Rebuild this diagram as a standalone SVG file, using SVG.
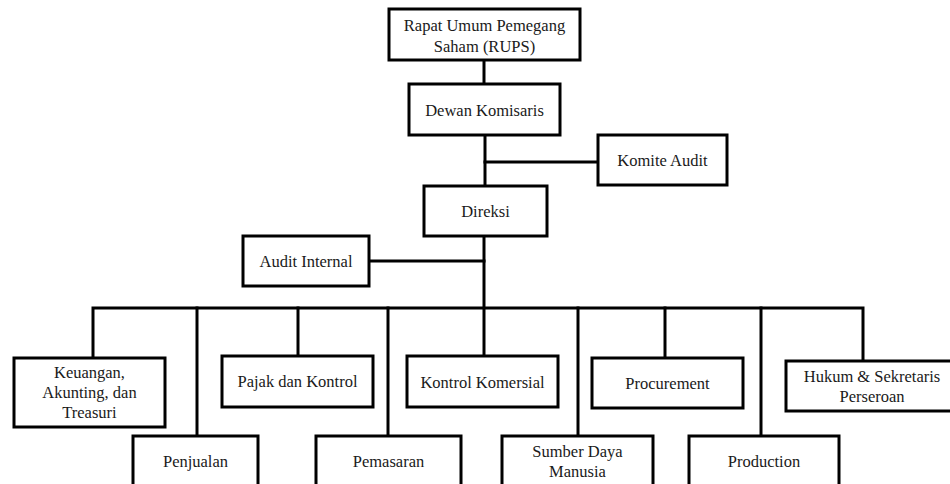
<svg xmlns="http://www.w3.org/2000/svg" width="950" height="484" viewBox="0 0 950 484">
  <style>
    .box { fill: #ffffff; stroke: #000000; stroke-width: 3; }
    .link { fill: none; stroke: #000000; stroke-width: 3; stroke-linecap: square; }
    text { font-family: "Liberation Serif", "Times New Roman", serif; font-size: 16.5px; fill: #1a1a1a; text-anchor: middle; }
  </style>
  <rect width="950" height="484" fill="#ffffff"/>

  <!-- connectors -->
  <g id="connectors">
    <line class="link" x1="484" y1="60" x2="484" y2="84"/>
    <line class="link" x1="485" y1="135" x2="485" y2="186"/>
    <line class="link" x1="485" y1="162" x2="598" y2="162"/>
    <line class="link" x1="484" y1="236" x2="484" y2="356"/>
    <line class="link" x1="369" y1="261" x2="484" y2="261"/>
    <polyline class="link" points="93,358 93,308 863,308 863,361"/>
    <line class="link" x1="197" y1="308" x2="197" y2="436"/>
    <line class="link" x1="298" y1="308" x2="298" y2="356"/>
    <line class="link" x1="388" y1="308" x2="388" y2="436"/>
    <line class="link" x1="578" y1="308" x2="578" y2="436"/>
    <line class="link" x1="665" y1="308" x2="665" y2="358"/>
    <line class="link" x1="761" y1="308" x2="761" y2="436"/>
  </g>

  <g id="rups">
    <rect class="box" x="389" y="9" width="191" height="51"/>
    <text x="484.5" y="31">Rapat Umum Pemegang</text>
    <text x="484.5" y="52">Saham (RUPS)</text>
  </g>
  <g id="dewan-komisaris">
    <rect class="box" x="409" y="84" width="151" height="51"/>
    <text x="484.5" y="116">Dewan Komisaris</text>
  </g>
  <g id="komite-audit">
    <rect class="box" x="598" y="135" width="129" height="50"/>
    <text x="662.5" y="166">Komite Audit</text>
  </g>
  <g id="direksi">
    <rect class="box" x="424" y="186" width="123" height="50"/>
    <text x="485.5" y="217">Direksi</text>
  </g>
  <g id="audit-internal">
    <rect class="box" x="243" y="236" width="126" height="50"/>
    <text x="306" y="267">Audit Internal</text>
  </g>

  <g id="keuangan">
    <rect class="box" x="14" y="358" width="151" height="69"/>
    <text x="89.5" y="378">Keuangan,</text>
    <text x="89.5" y="398">Akunting, dan</text>
    <text x="89.5" y="418">Treasuri</text>
  </g>
  <g id="pajak-kontrol">
    <rect class="box" x="222" y="356" width="151" height="51"/>
    <text x="297.5" y="387">Pajak dan Kontrol</text>
  </g>
  <g id="kontrol-komersial">
    <rect class="box" x="407" y="356" width="151" height="51"/>
    <text x="482.5" y="388">Kontrol Komersial</text>
  </g>
  <g id="procurement">
    <rect class="box" x="592" y="358" width="151" height="50"/>
    <text x="667.5" y="389">Procurement</text>
  </g>
  <g id="hukum-sekretaris">
    <rect class="box" x="786" y="361" width="174" height="50"/>
    <text x="872" y="382">Hukum &amp; Sekretaris</text>
    <text x="872" y="402">Perseroan</text>
  </g>

  <g id="penjualan">
    <rect class="box" x="133" y="436" width="125" height="64"/>
    <text x="195.5" y="467">Penjualan</text>
  </g>
  <g id="pemasaran">
    <rect class="box" x="316" y="436" width="145" height="64"/>
    <text x="388.5" y="467">Pemasaran</text>
  </g>
  <g id="sdm">
    <rect class="box" x="502" y="436" width="151" height="64"/>
    <text x="577.5" y="457">Sumber Daya</text>
    <text x="577.5" y="477">Manusia</text>
  </g>
  <g id="production">
    <rect class="box" x="689" y="436" width="150" height="64"/>
    <text x="764" y="467">Production</text>
  </g>
</svg>
